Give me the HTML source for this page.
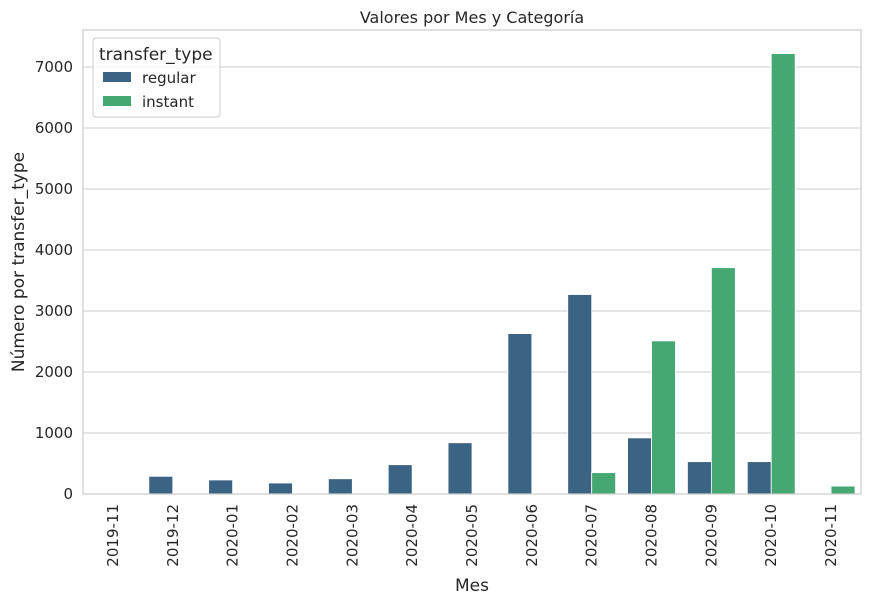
<!DOCTYPE html>
<html><head><meta charset="utf-8"><style>
body{margin:0;background:#fff;font-family:"Liberation Sans","DejaVu Sans",sans-serif;}
svg text{font-family:"DejaVu Sans","Liberation Sans",sans-serif;fill:#262626;}
</style></head><body>
<svg id="chart" width="871" height="604">
<rect x="0" y="0" width="871" height="604" fill="#fff"/>
<g id="grid"></g><g id="bars"></g><g id="axes"></g>
</svg>
<script>
const categories=["2019-11","2019-12","2020-01","2020-02","2020-03","2020-04","2020-05","2020-06","2020-07","2020-08","2020-09","2020-10","2020-11"];
const regularValues=[10,290,230,180,250,480,840,2630,3270,920,530,530,0];
const instantValues=[0,0,0,0,0,0,0,0,350,2510,3710,7220,130];
const yTicks=[0,1000,2000,3000,4000,5000,6000,7000];
const L=83,R=861,T=30,B=494;
const yScale=v=>B-v*(B-67)/7000;
const step=(R-L)/categories.length;
const xCenter=i=>L+step*(i+0.5);
const bw=step*0.4;
const NS="http://www.w3.org/2000/svg";
function mk(tag,attrs,parent,text){const e=document.createElementNS(NS,tag);for(const k in attrs)e.setAttribute(k,attrs[k]);if(text!==undefined)e.textContent=text;parent.appendChild(e);return e;}
const grid=document.getElementById('grid'),bars=document.getElementById('bars'),axes=document.getElementById('axes');
yTicks.forEach(t=>{
 const y=yScale(t);
 const l=mk('line',{x1:L,x2:R,y1:y,y2:y,stroke:'#cccccc','stroke-width':1},grid);
 
 
 const tx=mk('text',{x:L-10,y:y+5,'text-anchor':'end','font-size':15},axes,String(t));
 
 
});
categories.forEach((c,i)=>{
 const x=xCenter(i);
 const r=regularValues[i],s=instantValues[i];
 const b1=mk('rect',{x:x-bw,y:yScale(r),width:bw,height:B-yScale(r),fill:'#3a6384',stroke:'#fff','stroke-width':0.8},bars);
 
 
 const b2=mk('rect',{x:x,y:yScale(s),width:bw,height:B-yScale(s),fill:'#45a873',stroke:'#fff','stroke-width':0.8},bars);
 
 
 const tx=mk('text',{x:0,y:0,'text-anchor':'end','font-size':15,transform:`translate(${x+5},504) rotate(-90)`},axes,c);
 
 
});
const fr=mk('rect',{x:L,y:T,width:R-L,height:B-T,fill:'none',stroke:'#cccccc','stroke-width':1.2},axes);


const ti=mk('text',{x:(L+R)/2,y:23,'text-anchor':'middle','font-size':16},axes,'Valores por Mes y Categoría');


const xt=mk('text',{x:(L+R)/2,y:591,'text-anchor':'middle','font-size':17},axes,'Mes');


const yt=mk('text',{x:0,y:0,'text-anchor':'middle','font-size':17,transform:`translate(24,${(T+B)/2}) rotate(-90)`},axes,'Número por transfer_type');


const lg=mk('g',{},axes);


mk('rect',{x:93,y:38,width:127,height:79,rx:3,fill:'#fff','fill-opacity':0.85,stroke:'#cccccc'},lg);
mk('text',{x:99,y:60,'font-size':17},lg,'transfer_type');
const e1=mk('g',{},lg);


mk('rect',{x:103,y:72,width:28,height:10,fill:'#3a6384'},e1);
mk('text',{x:142,y:83,'font-size':15},e1,'regular');
const e2=mk('g',{},lg);


mk('rect',{x:103,y:96,width:28,height:10,fill:'#45a873'},e2);
mk('text',{x:142,y:107,'font-size':15},e2,'instant');
</script>
</body></html>
